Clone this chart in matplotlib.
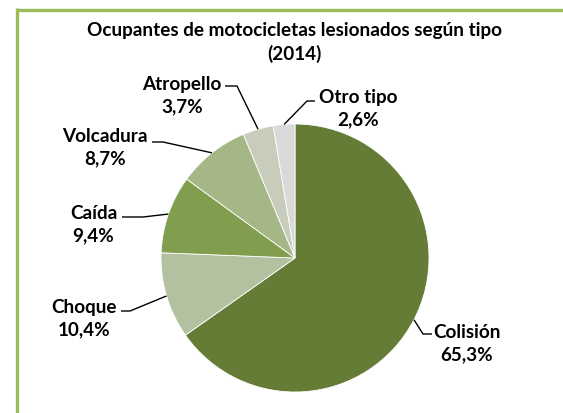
import matplotlib
matplotlib.use("Agg")
import matplotlib.pyplot as plt
import numpy as np

categories = ["Colisión", "Choque", "Caída", "Volcadura", "Atropello", "Otro tipo"]
values = [65.3, 10.4, 9.4, 8.7, 3.7, 2.6]
colors = ["#647C35", "#B4C1A0", "#819E4F", "#A5B787", "#C8CDBB", "#D9D9D9"]
title = "Ocupantes de motocicletas lesionados según tipo\n(2014)"

W, H = 563, 414
FONT = "Lato"
FS = 13.6
LS = 1.4

def Y(y):
    return H - y

fig = plt.figure(figsize=(W / 100, H / 100), dpi=100)
ax = fig.add_axes([0, 0, 1, 1])
ax.set_xlim(0, W)
ax.set_ylim(0, H)
ax.set_aspect("equal")
ax.axis("off")

cx, cy, r = 295, Y(259), 134
wedges, _ = ax.pie(values, colors=colors, startangle=90, counterclock=False,
                   center=(cx, cy), radius=r,
                   wedgeprops=dict(edgecolor="white", linewidth=0.6))
ax.set_xlim(0, W)
ax.set_ylim(0, H)
ax.axis("off")

# label layout (pixel coords in image space): text center, knee, line end
layout = {
    "Colisión": ((467, 343.5), (423, 335), (432, 335)),
    "Choque": ((84, 318.5), (130, 312), (121, 312)),
    "Caída": ((93.5, 224.5), (143, 218), (122, 218)),
    "Volcadura": ((105, 147.5), (163, 143), (152, 143)),
    "Atropello": ((182, 95.5), (237, 87), (225, 87)),
    "Otro tipo": ((358, 108.5), (307, 102), (315, 102)),
}

for w, cat, v in zip(wedges, categories, values):
    ang = np.deg2rad((w.theta1 + w.theta2) / 2)
    ex, ey = cx + r * np.cos(ang), cy + r * np.sin(ang)
    (tx, ty), (kx, ky), (lx, ly) = layout[cat]
    ax.plot([ex, kx, lx], [ey, Y(ky), Y(ly)], color="black", lw=1.0,
            solid_capstyle="butt")
    label = f"{cat}\n{v:.1f}%".replace(".", ",")
    ax.text(tx, Y(ty), label, ha="center", va="center", fontsize=FS,
            fontweight="bold", family=FONT, linespacing=LS, color="black")

ax.text(294, Y(42.5), title, ha="center", va="center", fontsize=FS,
        fontweight="bold", family=FONT, linespacing=LS, color="black")

# green frame
bc = "#9BBB59"
ax.plot([16.5, W + 5], [Y(10.5), Y(10.5)], color=bc, lw=2.4, solid_capstyle="butt")
ax.plot([16.5, 16.5], [Y(9.3), -5], color=bc, lw=2.4, solid_capstyle="butt")

fig.savefig("out.png", dpi=100)
